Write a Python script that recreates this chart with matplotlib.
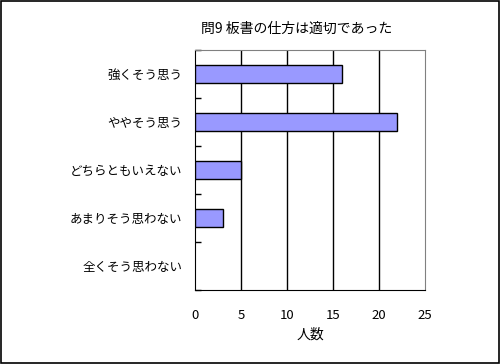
import matplotlib
matplotlib.use('Agg')
import matplotlib.pyplot as plt
from matplotlib.patches import Rectangle

plt.rcParams['font.family'] = ['Noto Sans CJK JP', 'DejaVu Sans']

categories = ['強くそう思う', 'ややそう思う', 'どちらともいえない', 'あまりそう思わない', '全くそう思わない']
counts = [16, 22, 5, 3, 0]
xticks = [0, 5, 10, 15, 20, 25]

fig = plt.figure(figsize=(5.0, 3.64), dpi=100, facecolor='white')
# outer frame of the chart
fig.patches.append(Rectangle((0.002, 0.003), 0.995, 0.994, transform=fig.transFigure,
                             fill=False, edgecolor='black', linewidth=1.2))

ax = fig.add_axes([0.39, 0.2033, 0.46, 0.6593])
y = list(range(len(categories)))
edge_w = [1 if c > 0 else 0 for c in counts]
ax.barh(y, counts, height=0.38, color='#9999FF', edgecolor='black', linewidth=edge_w, zorder=3)

ax.set_xlim(0, 25)
ax.set_ylim(len(categories) - 0.5, -0.5)
ax.set_xticks(xticks)
ax.set_xticklabels([str(t) for t in xticks], fontsize=9.5)
ax.set_yticks(y)
ax.set_yticklabels(categories, fontsize=9)
ax.tick_params(axis='y', which='major', length=0, pad=9)
ax.tick_params(axis='x', length=0, pad=14)
ax.set_yticks([i + 0.5 for i in range(-1, len(categories))], minor=True)
ax.tick_params(axis='y', which='minor', direction='in', length=4, width=1)

for t in xticks[1:-1]:
    ax.axvline(t, color='black', linewidth=1, zorder=1)

for side in ['top', 'right']:
    ax.spines[side].set_color('#808080')
for side in ['left', 'bottom']:
    ax.spines[side].set_color('black')

ax.set_xlabel('人数', fontsize=10, labelpad=4)
fig.text(0.594, 0.92, '問9 板書の仕方は適切であった', fontsize=10, ha='center', va='center')

fig.savefig('out.png', dpi=100)
